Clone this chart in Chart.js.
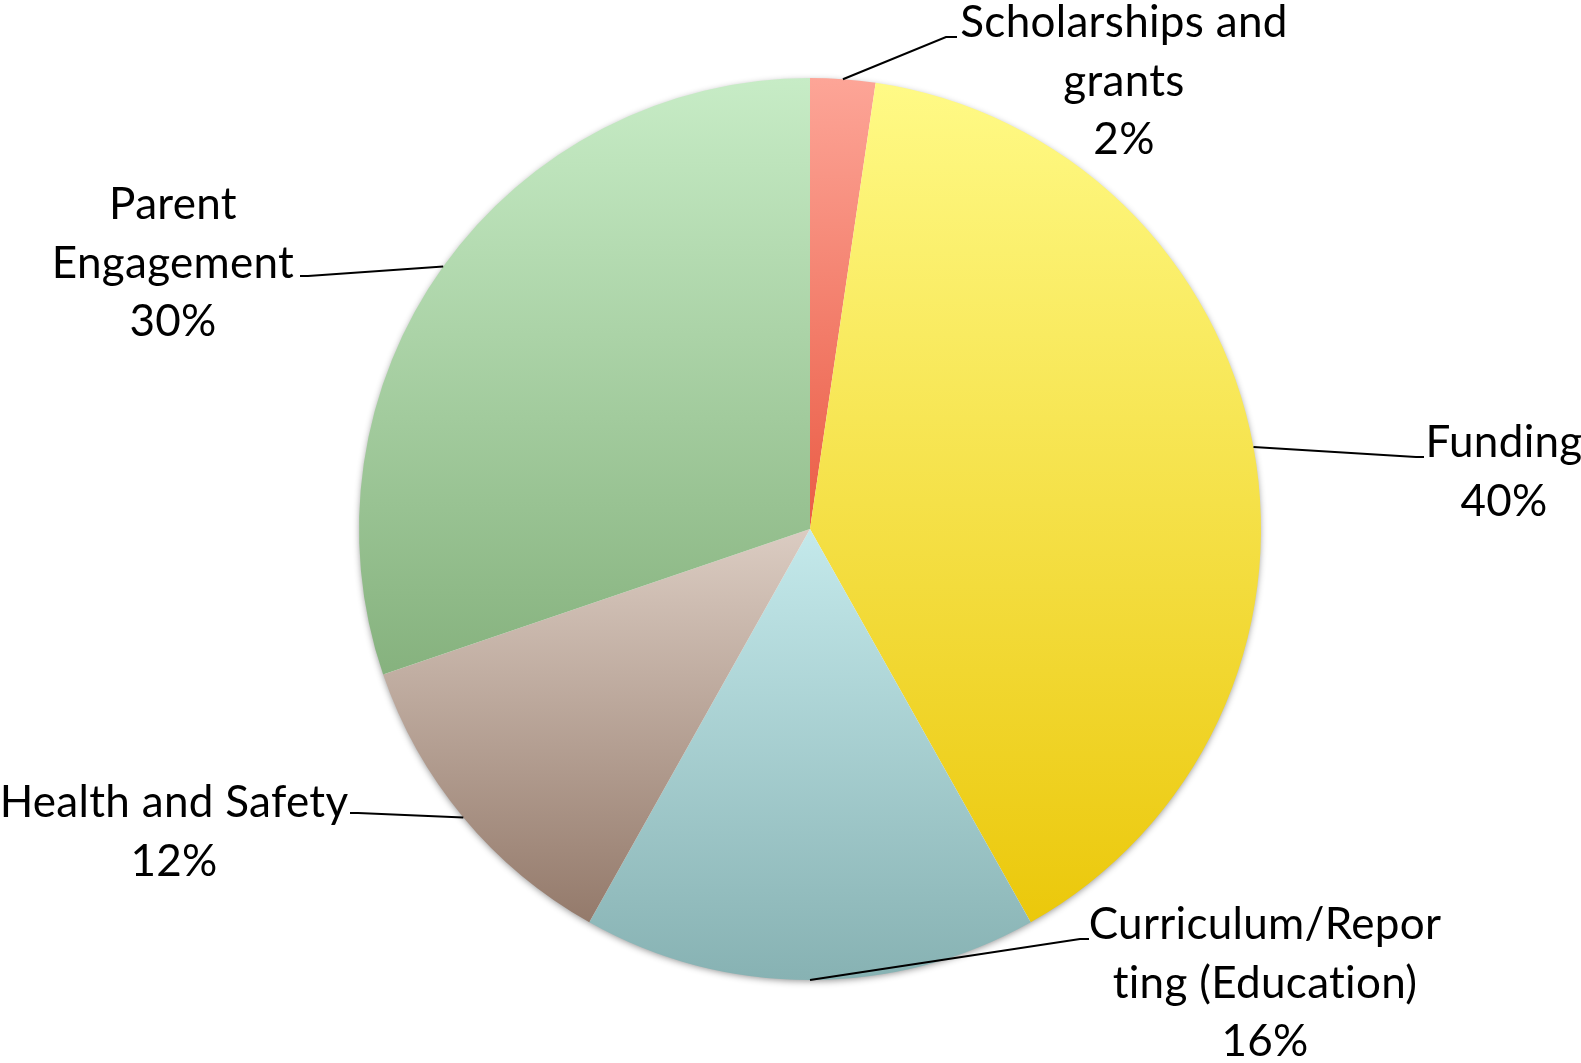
<!DOCTYPE html>
<html>
<head>
<meta charset="utf-8">
<script src="https://cdn.jsdelivr.net/npm/chart.js@4/dist/chart.umd.min.js"></script>
<style>
  html, body { margin: 0; padding: 0; background: #fff; }
  #wrap { width: 1581px; height: 1063px; position: relative; }
</style>
</head>
<body>
<div id="wrap"><canvas id="chart"></canvas></div>
<script>
// data
const categories = ["Scholarships and grants", "Funding", "Curriculum/Reporting (Education)", "Health and Safety", "Parent Engagement"];
const counts = [1, 17, 7, 5, 13];
const percentLabels = ["2%", "40%", "16%", "12%", "30%"];

// gradient colours per slice (top -> bottom)
const topColors = ["#fda597", "#fffa86", "#c4e9eb", "#dbccc2", "#c7ecc6"];
const bottomColors = ["#ea5c45", "#ebc80b", "#87b2b3", "#947a6b", "#86b27e"];

// label layout: text lines, text centre x, first baseline, elbow and end of leader line
const labelLayout = [
  { lines: ["Scholarships and", "grants", "2%"], cx: 1124, y: 37, elbow: [946, 37], end: [957, 37] },
  { lines: ["Funding", "40%"], cx: 1504, y: 457, elbow: [1416, 457], end: [1424, 457] },
  { lines: ["Curriculum/Repor", "ting (Education)", "16%"], cx: 1265, y: 939, elbow: [1080, 939], end: [1089, 939] },
  { lines: ["Health and Safety", "12%"], cx: 174, y: 817, elbow: [358, 813], end: [350, 813] },
  { lines: ["Parent", "Engagement", "30%"], cx: 173, y: 219, elbow: [308, 276], end: [300, 276] }
];
const lineGap = 58.5;

// 各スライスの縦グラデーション
function sliceGradient(context) {
  const chart = context.chart;
  const area = chart.chartArea;
  const i = context.dataIndex;
  if (!area || i === undefined) return topColors[0];
  const cx = (area.left + area.right) / 2;
  const cy = (area.top + area.bottom) / 2;
  const r = Math.min(area.right - area.left, area.bottom - area.top) / 2;
  const total = counts.reduce((a, b) => a + b, 0);
  let cum = 0;
  for (let k = 0; k < i; k++) cum += counts[k];
  const a0 = -Math.PI / 2 + 2 * Math.PI * cum / total;
  const a1 = a0 + 2 * Math.PI * counts[i] / total;
  const ys = [cy, cy + r * Math.sin(a0), cy + r * Math.sin(a1)];
  [Math.PI / 2, 3 * Math.PI / 2].forEach(a => {
    if (a > a0 && a < a1) ys.push(cy + r * Math.sin(a));
  });
  if (a0 < -Math.PI / 2 + 1e-9 && a1 > -Math.PI / 2) ys.push(cy - r);
  const y0 = Math.min(...ys), y1 = Math.max(...ys);
  const g = chart.ctx.createLinearGradient(0, y0, 0, y1);
  g.addColorStop(0, topColors[i]);
  g.addColorStop(1, bottomColors[i]);
  return g;
}

// 影
const shadowPlugin = {
  id: "pieShadow",
  beforeDatasetsDraw(chart) {
    const arc = chart.getDatasetMeta(0).data[0];
    if (!arc) return;
    const ctx = chart.ctx;
    ctx.save();
    ctx.shadowColor = "rgba(0,0,0,0.45)";
    ctx.shadowBlur = 7;
    ctx.shadowOffsetX = 0;
    ctx.shadowOffsetY = 2;
    ctx.fillStyle = "#ffffff";
    ctx.beginPath();
    ctx.arc(arc.x, arc.y, arc.outerRadius - 1, 0, Math.PI * 2);
    ctx.fill();
    ctx.restore();
  }
};

// ラベルと引き出し線
const labelPlugin = {
  id: "outerLabels",
  afterDatasetsDraw(chart) {
    const ctx = chart.ctx;
    const arcs = chart.getDatasetMeta(0).data;
    ctx.save();
    arcs.forEach((arc, i) => {
      const lay = labelLayout[i];
      const mid = (arc.startAngle + arc.endAngle) / 2;
      const sx = arc.x + Math.cos(mid) * arc.outerRadius;
      const sy = arc.y + Math.sin(mid) * arc.outerRadius;
      ctx.strokeStyle = "#000";
      ctx.lineWidth = 2;
      ctx.beginPath();
      ctx.moveTo(sx, sy);
      ctx.lineTo(lay.elbow[0], lay.elbow[1]);
      ctx.lineTo(lay.end[0], lay.end[1]);
      ctx.stroke();

      ctx.fillStyle = "#000";
      ctx.font = "44px Lato";
      ctx.letterSpacing = "0.3px"; // 合字を避ける
      ctx.textAlign = "center";
      ctx.textBaseline = "alphabetic";
      lay.lines.forEach((t, k) => {
        ctx.fillText(t, lay.cx, lay.y + k * lineGap);
      });
    });
    ctx.restore();
  }
};

const chart = new Chart(document.getElementById("chart"), {
  type: "pie",
  data: {
    labels: categories,
    datasets: [{
      data: counts,
      backgroundColor: sliceGradient,
      borderWidth: 0,
      hoverOffset: 0
    }]
  },
  options: {
    responsive: true,
    maintainAspectRatio: false,
    animation: false,
    layout: { padding: { top: 78, bottom: 83, left: 39, right: 0 } },
    plugins: {
      legend: { display: false },
      tooltip: { enabled: false }
    }
  },
  plugins: [shadowPlugin, labelPlugin]
});
</script>
</body>
</html>
